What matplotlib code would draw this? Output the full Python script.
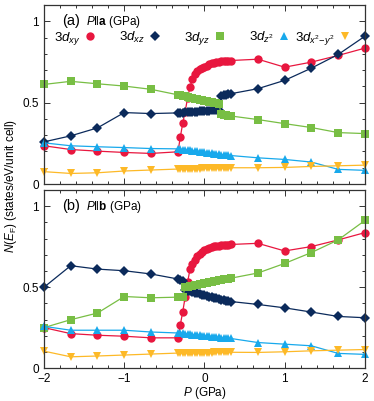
import matplotlib
matplotlib.use('Agg')
import matplotlib.pyplot as plt
from matplotlib.lines import Line2D
from matplotlib.ticker import MultipleLocator

plt.rcParams['font.family'] = ['Liberation Sans', 'DejaVu Sans']
plt.rcParams['mathtext.fontset'] = 'custom'
plt.rcParams['mathtext.rm'] = 'Liberation Sans'
plt.rcParams['mathtext.it'] = 'Liberation Sans:italic'
plt.rcParams['mathtext.bf'] = 'Liberation Sans:bold'

# pressure points (GPa): coarse grid outside, dense grid around 0
p_left = [-2.0, -1.667, -1.333, -1.0, -0.667]
p_dense = [-0.33, -0.30, -0.27, -0.24, -0.21, -0.18, -0.15, -0.12, -0.09, -0.06,
           -0.03, 0.00, 0.03, 0.06, 0.09, 0.12, 0.15, 0.18, 0.21, 0.24, 0.27, 0.30, 0.33]
p_right = [0.667, 1.0, 1.333, 1.667, 2.0]
pressure = p_left + p_dense + p_right

# panel (a): P || a
a_xy = ([0.235, 0.212, 0.202, 0.194, 0.188]
        + [0.198, 0.29, 0.375, 0.445, 0.53, 0.595, 0.645, 0.675, 0.695, 0.707, 0.715, 0.722,
           0.728, 0.735, 0.741, 0.745, 0.748, 0.751, 0.753, 0.755, 0.757, 0.758, 0.759]
        + [0.767, 0.718, 0.749, 0.79, 0.835])
a_xz = ([0.259, 0.296, 0.345, 0.439, 0.433]
        + [0.437, 0.438, 0.439, 0.440, 0.441, 0.442, 0.443, 0.444, 0.445, 0.446, 0.447, 0.448,
           0.449, 0.450, 0.452, 0.453, 0.455, 0.457, 0.543, 0.547, 0.550, 0.552, 0.555]
        + [0.586, 0.637, 0.712, 0.796, 0.908])
a_yz = ([0.612, 0.631, 0.616, 0.602, 0.582]
        + [0.548, 0.545, 0.541, 0.538, 0.535, 0.531, 0.528, 0.525, 0.521, 0.518, 0.515, 0.511,
           0.508, 0.505, 0.501, 0.498, 0.495, 0.492, 0.430, 0.427, 0.424, 0.421, 0.418]
        + [0.396, 0.371, 0.347, 0.316, 0.31])
a_z2 = ([0.253, 0.235, 0.229, 0.224, 0.218]
        + [0.216, 0.214, 0.212, 0.210, 0.209, 0.207, 0.205, 0.203, 0.201, 0.199, 0.197, 0.195,
           0.193, 0.191, 0.189, 0.187, 0.185, 0.183, 0.181, 0.179, 0.178, 0.176, 0.175]
        + [0.161, 0.151, 0.135, 0.09, 0.084])
a_x2y2 = ([0.076, 0.065, 0.069, 0.08, 0.086]
          + [0.092, 0.092, 0.093, 0.093, 0.094, 0.094, 0.094, 0.095, 0.095, 0.095, 0.096, 0.096,
             0.096, 0.097, 0.097, 0.097, 0.098, 0.098, 0.098, 0.099, 0.099, 0.099, 0.100]
          + [0.1, 0.102, 0.108, 0.112, 0.116])

# panel (b): P || b
b_xy = ([0.251, 0.214, 0.204, 0.198, 0.188]
        + [0.188, 0.27, 0.35, 0.44, 0.53, 0.612, 0.645, 0.668, 0.69, 0.705, 0.72, 0.73,
           0.738, 0.744, 0.748, 0.752, 0.755, 0.757, 0.759, 0.761, 0.762, 0.763, 0.764]
        + [0.771, 0.724, 0.751, 0.792, 0.837])
b_xz = ([0.5, 0.633, 0.612, 0.602, 0.582]
        + [0.551, 0.545, 0.538, 0.482, 0.478, 0.474, 0.470, 0.466, 0.462, 0.458, 0.455, 0.451,
           0.447, 0.443, 0.439, 0.435, 0.431, 0.427, 0.424, 0.420, 0.416, 0.414, 0.412]
        + [0.394, 0.373, 0.347, 0.32, 0.312])
b_yz = ([0.251, 0.3, 0.341, 0.443, 0.435]
        + [0.439, 0.441, 0.443, 0.500, 0.503, 0.506, 0.509, 0.512, 0.515, 0.518, 0.521, 0.525,
           0.528, 0.531, 0.534, 0.537, 0.540, 0.543, 0.546, 0.549, 0.552, 0.554, 0.556]
        + [0.588, 0.647, 0.714, 0.792, 0.912])
b_z2 = ([0.259, 0.235, 0.235, 0.235, 0.224]
        + [0.218, 0.216, 0.215, 0.213, 0.212, 0.210, 0.208, 0.207, 0.205, 0.204, 0.202, 0.201,
           0.199, 0.198, 0.196, 0.194, 0.193, 0.191, 0.190, 0.188, 0.187, 0.185, 0.184]
        + [0.159, 0.149, 0.139, 0.092, 0.086])
b_x2y2 = ([0.106, 0.071, 0.076, 0.082, 0.088]
          + [0.094, 0.094, 0.094, 0.095, 0.095, 0.095, 0.095, 0.096, 0.096, 0.096, 0.096, 0.097,
             0.097, 0.097, 0.097, 0.098, 0.098, 0.098, 0.098, 0.099, 0.099, 0.099, 0.099]
          + [0.098, 0.102, 0.108, 0.112, 0.116])

labels = [r'$3d_{xy}$', r'$3d_{xz}$', r'$3d_{yz}$', r'$3d_{z^2}$', r'$3d_{x^2\!-\!y^2}$']
colors = ['#E8173F', '#0B2A5B', '#78BE44', '#18A9EC', '#FDB927']
markers = ['o', 'D', 's', '^', 'v']
msizes = [6, 4.6, 5.2, 5.6, 5.6]

fig = plt.figure(figsize=(3.74, 4.01), dpi=100)
ax1 = fig.add_axes([0.1176, 0.5411, 0.858, 0.4464])
ax2 = fig.add_axes([0.1176, 0.0815, 0.858, 0.4447])

panels = [(ax1, [a_xy, a_xz, a_yz, a_z2, a_x2y2], '(a)', r'$P\|\mathbf{a}$ (GPa)'),
          (ax2, [b_xy, b_xz, b_yz, b_z2, b_x2y2], '(b)', r'$P\|\mathbf{b}$ (GPa)')]

for ax, series, tag, desc in panels:
    for vals, c, m, ms in zip(series, colors, markers, msizes):
        ax.plot(pressure, vals, color=c, marker=m, markersize=ms, markeredgewidth=0,
                linewidth=0.9, clip_on=False)
    ax.set_xlim(-2, 2)
    ax.set_ylim(0, 1.1)
    ax.xaxis.set_major_locator(MultipleLocator(1))
    ax.xaxis.set_minor_locator(MultipleLocator(0.2))
    ax.yaxis.set_major_locator(MultipleLocator(0.5))
    ax.yaxis.set_minor_locator(MultipleLocator(0.1))
    ax.set_yticks([0, 0.5, 1])
    ax.set_yticklabels(['0', '0.5', '1'])
    ax.tick_params(which='both', direction='in', top=True, right=True,
                   labelsize=8.5, width=0.7, colors='#333333', labelcolor='black')
    ax.tick_params(which='major', length=4)
    ax.tick_params(which='minor', length=2.5)
    for sp in ax.spines.values():
        sp.set_linewidth(0.9)
        sp.set_color('#333333')
    ax.text(0.058, 0.91, tag, transform=ax.transAxes, fontsize=10.5, va='center')
    ax.text(0.132, 0.905, desc, transform=ax.transAxes, fontsize=8.5, va='center')

ax1.tick_params(labelbottom=False)
ax2.set_xticks([-2, -1, 0, 1, 2])
ax2.set_xlabel(r'$P$ (GPa)', fontsize=8.5, labelpad=0)

# legend: first four entries in one row, last one separately (tighter gap)
handles = [Line2D([], [], color=c, marker=m, markersize=ms, markeredgewidth=0, linestyle='none')
           for c, m, ms in zip(colors, markers, msizes)]
leg1 = ax1.legend(handles[:4], labels[:4], ncol=4, loc='center left',
                  bbox_to_anchor=(0.03, 0.815), frameon=False, markerfirst=False,
                  handlelength=0.8, handletextpad=0.35, columnspacing=1.8,
                  fontsize=9.5, borderpad=0, borderaxespad=0)
ax1.add_artist(leg1)
ax1.legend(handles[4:], labels[4:], loc='center left', bbox_to_anchor=(0.782, 0.815),
           frameon=False, markerfirst=False, handlelength=0.8, handletextpad=0.35,
           fontsize=9.5, borderpad=0, borderaxespad=0)

fig.text(0.03, 0.535, r'$N(E_\mathrm{F})$ (states/eV/unit cell)', rotation=90,
         fontsize=8.5, va='center', ha='center')

fig.savefig('out.png', dpi=100)
